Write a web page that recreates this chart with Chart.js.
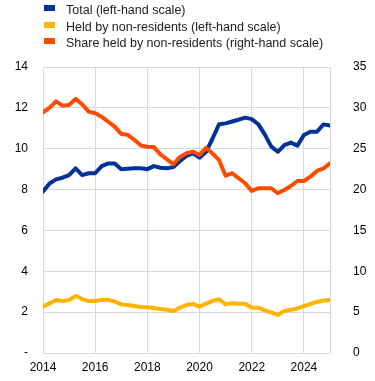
<!DOCTYPE html>
<html>
<head>
<meta charset="utf-8">
<script src="https://cdn.jsdelivr.net/npm/chart.js@4"></script>
<style>
  body { margin: 0; background: #fff; font-family: "Liberation Sans", Arial, sans-serif; }
  #wrap { position: relative; width: 375px; height: 381px; }
  #legend { position: absolute; left: 44px; top: 2px; font-size: 12.5px; color: #222; }
  .item { position: relative; height: 16.7px; line-height: 16px; padding-left: 22px; white-space: nowrap; }
  .box { position: absolute; left: 0; top: 3px; width: 11px; height: 6px; }
</style>
</head>
<body>
<div id="wrap">
  <canvas id="chart" width="375" height="381"></canvas>
  <div id="legend"></div>
</div>
<script>
// quarterly observations, 2014 Q1 to 2025 Q1
const quarters = [];
for (let i = 0; i < 45; i++) quarters.push(2014 + i / 4);

const totalDebt = [7.9, 8.3, 8.5, 8.58, 8.71, 9.04, 8.71, 8.8, 8.8, 9.15, 9.28, 9.28, 9.0, 9.02, 9.04,
  9.04, 9.0, 9.15, 9.07, 9.04, 9.1, 9.4, 9.65, 9.77, 9.56, 9.85, 10.5, 11.2, 11.24, 11.33,
  11.42, 11.52, 11.45, 11.2, 10.7, 10.1, 9.85, 10.18, 10.3, 10.15, 10.67, 10.83, 10.83, 11.19, 11.13];

const heldByNonRes = [2.27, 2.43, 2.59, 2.54, 2.59, 2.8, 2.64, 2.54, 2.55, 2.6, 2.6, 2.52, 2.38, 2.35, 2.3,
  2.25, 2.24, 2.2, 2.15, 2.12, 2.06, 2.22, 2.35, 2.4, 2.27, 2.42, 2.55, 2.63, 2.38, 2.44,
  2.41, 2.41, 2.22, 2.22, 2.08, 1.99, 1.86, 2.06, 2.12, 2.18, 2.3, 2.4, 2.5, 2.57, 2.6];

const shareNonRes = [29.46, 30.0, 30.8, 30.27, 30.35, 31.1, 30.44, 29.54, 29.34, 28.9, 28.3, 27.7, 26.8, 26.7, 26.1,
  25.4, 25.25, 25.2, 24.3, 23.7, 23.1, 24.0, 24.45, 24.64, 24.24, 25.1, 24.4, 23.6, 21.7, 22.0,
  21.38, 20.77, 19.83, 20.16, 20.16, 20.16, 19.55, 19.95, 20.44, 21.05, 21.05, 21.58, 22.28, 22.6, 23.2];

const seriesNames = ['Total (left-hand scale)', 'Held by non-residents (left-hand scale)', 'Share held by non-residents (right-hand scale)'];
const seriesColors = ['#003299', '#FFB400', '#FF4B00'];
const xTicks = [2014, 2016, 2018, 2020, 2022, 2024, 2025];
const leftTicks = [0, 2, 4, 6, 8, 10, 12, 14];
const rightTicks = [0, 5, 10, 15, 20, 25, 30, 35];

function toPoints(vals) {
  return vals.map((v, i) => ({ x: quarters[i], y: v }));
}

// html legend
const legendEl = document.getElementById('legend');
seriesNames.forEach((name, i) => {
  const row = document.createElement('div');
  row.className = 'item';
  row.innerHTML = `<span class="box" style="background:${seriesColors[i]}"></span>${name}`;
  legendEl.appendChild(row);
});

const tickFont = { family: '"Liberation Sans", Arial, sans-serif', size: 12 };
const gridColor = '#d9d9d9';

new Chart(document.getElementById('chart').getContext('2d'), {
  type: 'line',
  data: {
    datasets: [
      { label: seriesNames[0], data: toPoints(totalDebt), borderColor: seriesColors[0], yAxisID: 'y', order: 1 },
      { label: seriesNames[1], data: toPoints(heldByNonRes), borderColor: seriesColors[1], yAxisID: 'y', order: 2 },
      { label: seriesNames[2], data: toPoints(shareNonRes), borderColor: seriesColors[2], yAxisID: 'y1', order: 0 },
    ]
  },
  options: {
    responsive: false,
    animation: false,
    layout: { padding: { top: 67, left: 0, right: 0, bottom: 0 } },
    elements: {
      line: { borderWidth: 4, tension: 0, borderCapStyle: 'round', borderJoinStyle: 'round' },
      point: { radius: 0 }
    },
    plugins: { legend: { display: false }, tooltip: { enabled: false } },
    scales: {
      x: {
        type: 'linear',
        min: 2014,
        max: 2025,
        afterBuildTicks: s => { s.ticks = xTicks.map(v => ({ value: v })); },
        ticks: {
          autoSkip: false,
          color: '#000',
          font: tickFont,
          padding: 7,
          maxRotation: 0,
          callback: v => (v % 2 === 0 ? String(v) : '')
        },
        grid: { color: gridColor, drawTicks: false },
        border: { display: false },
        afterFit: s => { s.height = 28; }
      },
      y: {
        position: 'left',
        min: 0,
        max: 14,
        afterBuildTicks: s => { s.ticks = leftTicks.map(v => ({ value: v })); },
        ticks: { color: '#000', font: tickFont, padding: 15, callback: v => (v === 0 ? '-' : v) },
        grid: { color: gridColor, drawTicks: false },
        border: { display: false },
        afterFit: s => { s.width = 43; }
      },
      y1: {
        position: 'right',
        min: 0,
        max: 35,
        afterBuildTicks: s => { s.ticks = rightTicks.map(v => ({ value: v })); },
        ticks: { color: '#000', font: tickFont, padding: 15 },
        grid: { display: false },
        border: { display: false },
        afterFit: s => { s.width = 45; }
      }
    }
  }
});
</script>
</body>
</html>
